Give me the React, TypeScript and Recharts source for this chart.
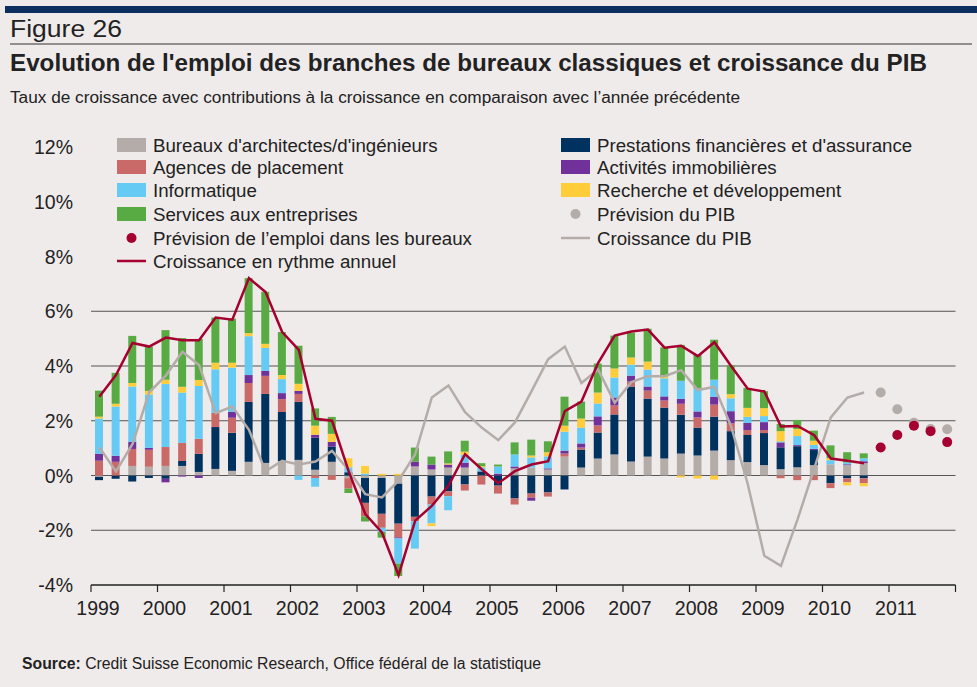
import React from "react"
import { ComposedChart, Bar, Line, XAxis, YAxis, CartesianGrid } from "recharts"

const years = ["1999", "2000", "2001", "2002", "2003", "2004", "2005", "2006", "2007", "2008", "2009", "2010", "2011"]
const quarters = years.flatMap((y) => ["Q1", "Q2", "Q3", "Q4"].map((q) => `${y} ${q}`))

// contributions (points de %), 1999 T1 - 2010 T3
const architectes = [-0.05, 0, 0.35, 0.32, 0.35, 0.35, 0.13, 0.24, 0.17, 0.5, 0.46, 0.52, 0.57, 0.21, 0.5, -0.1, -0.09, -0.09, -0.3, 0.33, 0.22, 0.29, 0.29, 0, 0, 0.26, 0.29, 0.22, 0.69, 0.29, 0.62, 0.77, 0.51, 0.69, 0.62, 0.8, 0.73, 0.91, 0.56, 0.49, 0.38, 0.23, 0.3, 0.38, 0.41, 0.38, 0.45]
const finance = [-0.12, -0.12, -0.22, -0.09, -0.12, 0.18, 0.66, 1.53, 1.39, 2.19, 2.52, 1.8, 2.12, 1.17, 0.55, 0.12, -0.91, -1.31, -1.46, -1.51, -0.77, -0.58, -0.33, 0.15, -0.37, -0.84, -0.66, -0.62, -0.51, 0.66, 0.95, 1.46, 2.74, 2.12, 1.86, 1.42, 1.02, 1.24, 1.06, 0.99, 1.17, 0.8, 0.77, 0.55, -0.28, -0.1, -0.1]
const placement = [0.54, 0.5, 0.62, 0.62, 0.69, 0.66, 0.55, 0.52, 0.55, 0.69, 0.66, 0.47, 0.29, -0.09, -0.16, -0.38, -0.49, -0.51, -0.5, -0.16, -0.29, -0.18, -0.22, -0.33, -0.29, -0.22, -0.15, -0.15, 0.11, 0.07, 0.26, 0.33, 0.18, 0.29, 0.26, 0.4, 0.37, 0.44, 0.29, 0.18, 0.11, -0.1, -0.17, -0.17, -0.18, -0.15, -0.18]
const immobilier = [0.26, 0.22, 0.26, 0.07, -0.13, -0.04, -0.09, 0, 0.22, 0.29, 0.18, 0.22, 0.11, 0.11, 0.18, 0, 0, 0, -0.04, 0.18, 0.18, 0.11, 0.18, 0, 0.07, 0.07, -0.11, 0.04, 0.11, 0.15, 0.33, 0.29, 0.22, 0.15, 0.15, 0.18, 0.22, 0.29, 0.44, 0.26, 0.29, 0.18, 0.04, 0.04, 0, 0.03, 0.07]
const informatique = [1.28, 1.8, 2.02, 1.95, 2.3, 1.84, 1.93, 1.59, 1.61, 1.42, 0.84, 0.51, -0.16, -0.32, 0, 0.18, 0.07, -0.15, -0.92, -1.0, -0.69, -0.51, 0.29, 0.15, 0.26, 0.44, 0.37, 0.44, 0.69, 0.58, 0.47, 0.73, 0.4, 0.62, 0.66, 0.66, 0.84, 0.62, 0.47, 0.22, 0.22, 0.04, 0.33, 0.15, 0.15, 0.07, 0.11]
const recherche = [0.07, 0.1, 0.13, 0.13, 0.16, 0.21, 0.22, 0.24, 0.18, 0.11, 0.15, 0.15, 0.26, 0.33, 0.29, 0.33, 0.28, 0.06, 0.06, 0, -0.1, 0.04, 0.11, 0.04, 0, 0, 0.07, 0.15, 0.22, 0.33, 0.4, 0.33, 0.26, 0.29, 0.07, -0.07, -0.11, -0.15, 0.15, 0.33, 0.29, 0.37, 0.26, 0.15, 0.07, -0.11, -0.11]
const services = [0.95, 1.13, 1.72, 1.62, 1.81, 1.78, 1.5, 1.65, 1.61, 2.01, 1.9, 1.57, 1.39, 0.63, 0.62, -0.16, -0.19, -0.21, -0.45, 0.51, 0.29, 0.44, 0.4, 0.11, 0.07, 0.44, 0.58, 0.4, 1.06, 0.62, 1.06, 1.2, 0.91, 1.2, 1.06, 1.31, 1.24, 1.46, 1.06, 0.73, 0.62, 0.26, 0.33, 0.37, 0.47, 0.37, 0.18]

// croissance en rythme annuel (emploi) et croissance du PIB
const emploi = [2.88, 3.67, 4.84, 4.71, 5.04, 4.94, 4.94, 5.77, 5.69, 7.21, 6.7, 5.24, 4.59, 2.07, 2.0, 0.15, -1.41, -2.08, -3.64, -1.65, -1.11, -0.38, 0.78, 0.23, -0.28, 0.16, 0.4, 0.52, 2.35, 2.7, 4.11, 5.11, 5.26, 5.33, 4.67, 4.74, 4.36, 4.87, 4.0, 3.17, 3.07, 1.79, 1.81, 1.47, 0.62, 0.54, 0.45]
const pib = [1.03, 0.15, 1.15, 3.04, 3.65, 4.52, 4.04, 2.28, 2.52, 1.67, 0.15, 0.54, 0.4, 0.51, 0.9, 0.2, -0.68, -0.8, -0.19, 0.78, 2.85, 3.29, 2.31, 1.75, 1.29, 1.94, 3.08, 4.25, 4.71, 3.38, 3.87, 2.66, 3.41, 3.63, 3.63, 3.85, 3.12, 3.24, 1.8, -0.3, -2.93, -3.3, -1.6, 0.25, 2.12, 2.85, 3.03]

// prévisions 2010 T4 - 2011 T4
const emploiPrevision = [1.02, 1.48, 1.82, 1.62, 1.22]
const pibPrevision = [3.03, 2.42, 1.93, 1.7, 1.69]

const yTicks = [-4, -2, 0, 2, 4, 6, 8, 10, 12]
const gridValues = [-2, 0, 2, 4, 6]

const C = {
  arch: "#b4aca8",
  fin: "#00325f",
  plac: "#c96a69",
  immo: "#70319b",
  info: "#66cbf4",
  rd: "#ffcd3a",
  serv: "#58ab42",
  red: "#a5002f",
  grey: "#b4aca8",
  bg: "#efebea",
  text: "#222",
}
const FONT = "'Liberation Sans', Arial, Helvetica, sans-serif"

const W = 977
const H = 687
const PLOT_LEFT = 91
const PLOT_RIGHT = 955.5
const PLOT_TOP = 147
const PLOT_BOTTOM = 585
const X_AXIS_H = 30
const Y_AXIS_W = 80
const BAND = (PLOT_RIGHT - PLOT_LEFT) / quarters.length

const nBars = emploi.length
const pick = (arr: number[], i: number) => (i < arr.length ? arr[i] : null)
const rows = quarters.map((q, i) => ({
  q,
  arch: pick(architectes, i),
  fin: pick(finance, i),
  plac: pick(placement, i),
  immo: pick(immobilier, i),
  info: pick(informatique, i),
  rd: pick(recherche, i),
  serv: pick(services, i),
  emp: pick(emploi, i),
  pib: pick(pib, i),
  empF: i >= nBars ? emploiPrevision[i - nBars] : null,
  pibF: i >= nBars ? pibPrevision[i - nBars] : null,
}))

const yToPx = (v: number) => PLOT_TOP + ((12 - v) * (PLOT_BOTTOM - PLOT_TOP)) / 16

function YTick(props: any) {
  const { y, payload } = props
  return (
    <text x={73} y={y + 7} textAnchor="end" fontSize={19.5} fill={C.text} fontFamily={FONT}>
      {payload.value}%
    </text>
  )
}

function XTick(props: any) {
  const { x, payload } = props
  const idx = quarters.indexOf(payload.value)
  if (idx % 4 !== 0) return <g />
  const x0 = x - BAND / 2
  const isLast = idx === quarters.length - 4
  return (
    <g>
      <line x1={x0} x2={x0} y1={PLOT_BOTTOM} y2={PLOT_BOTTOM + 7} stroke="#222" strokeWidth={1.2} />
      {isLast && (
        <line x1={x0 + 4 * BAND} x2={x0 + 4 * BAND} y1={PLOT_BOTTOM} y2={PLOT_BOTTOM + 7} stroke="#222" strokeWidth={1.2} />
      )}
      <text x={x0 + 7} y={PLOT_BOTTOM + 30} textAnchor="middle" fontSize={19.5} fill={C.text} fontFamily={FONT}>
        {payload.value.slice(0, 4)}
      </text>
    </g>
  )
}

const legendLeft = [
  { kind: "rect", color: C.arch, label: "Bureaux d'architectes/d'ingénieurs" },
  { kind: "rect", color: C.plac, label: "Agences de placement" },
  { kind: "rect", color: C.info, label: "Informatique" },
  { kind: "rect", color: C.serv, label: "Services aux entreprises" },
  { kind: "dot", color: C.red, label: "Prévision de l’emploi dans les bureaux" },
  { kind: "line", color: C.red, label: "Croissance en rythme annuel" },
]
const legendRight = [
  { kind: "rect", color: C.fin, label: "Prestations financières et d'assurance" },
  { kind: "rect", color: C.immo, label: "Activités immobilières" },
  { kind: "rect", color: C.rd, label: "Recherche et développement" },
  { kind: "dot", color: C.grey, label: "Prévision du PIB" },
  { kind: "line", color: C.grey, label: "Croissance du PIB" },
]
const legendRows = [145, 167, 190, 214, 238, 261]

function LegendItem({ item, x, cy }: { item: any; x: number; cy: number }) {
  return (
    <g>
      {item.kind === "rect" && <rect x={x} y={cy - 7} width={29} height={14} fill={item.color} />}
      {item.kind === "dot" && <circle cx={x + 14.5} cy={cy} r={5} fill={item.color} />}
      {item.kind === "line" && <line x1={x} x2={x + 29} y1={cy} y2={cy} stroke={item.color} strokeWidth={2.5} />}
      <text x={x + 36} y={cy + 6.5} fontSize={18.7} fill={C.text} fontFamily={FONT}>
        {item.label}
      </text>
    </g>
  )
}

export default function App() {
  return (
    <div style={{ position: "absolute", left: 0, top: 0, width: W, height: H, background: C.bg, overflow: "hidden" }}>
      <ComposedChart
        width={W}
        height={H}
        data={rows}
        stackOffset="sign"
        margin={{ top: PLOT_TOP, right: W - PLOT_RIGHT, bottom: H - PLOT_BOTTOM - X_AXIS_H, left: PLOT_LEFT - Y_AXIS_W }}
      >
        <CartesianGrid
          vertical={false}
          stroke="#555"
          strokeWidth={1.2}
          horizontalCoordinatesGenerator={() => gridValues.map(yToPx)}
        />
        <XAxis
          dataKey="q"
          interval={0}
          height={X_AXIS_H}
          tickLine={false}
          axisLine={{ stroke: "#222", strokeWidth: 1.5 }}
          tick={<XTick />}
        />
        <YAxis domain={[-4, 12]} ticks={yTicks} width={Y_AXIS_W} axisLine={false} tickLine={false} tick={<YTick />} />
        <Bar dataKey="arch" stackId="a" fill={C.arch} barSize={8} isAnimationActive={false} />
        <Bar dataKey="fin" stackId="a" fill={C.fin} barSize={8} isAnimationActive={false} />
        <Bar dataKey="plac" stackId="a" fill={C.plac} barSize={8} isAnimationActive={false} />
        <Bar dataKey="immo" stackId="a" fill={C.immo} barSize={8} isAnimationActive={false} />
        <Bar dataKey="info" stackId="a" fill={C.info} barSize={8} isAnimationActive={false} />
        <Bar dataKey="rd" stackId="a" fill={C.rd} barSize={8} isAnimationActive={false} />
        <Bar dataKey="serv" stackId="a" fill={C.serv} barSize={8} isAnimationActive={false} />
        <Line dataKey="pib" type="linear" stroke={C.grey} strokeWidth={2.5} dot={false} isAnimationActive={false} />
        <Line dataKey="emp" type="linear" stroke={C.red} strokeWidth={2.5} dot={false} isAnimationActive={false} />
        <Line
          dataKey="pibF"
          type="linear"
          stroke="none"
          dot={{ r: 5, fill: C.grey, stroke: "none" }}
          activeDot={false}
          isAnimationActive={false}
        />
        <Line
          dataKey="empF"
          type="linear"
          stroke="none"
          dot={{ r: 5, fill: C.red, stroke: "none" }}
          activeDot={false}
          isAnimationActive={false}
        />
      </ComposedChart>
      <svg width={W} height={H} style={{ position: "absolute", left: 0, top: 0, pointerEvents: "none" }}>
        <rect x={5} y={6} width={W - 5} height={7} fill="#0b2f5e" />
        <text x={10} y={37} fontSize={23} fill={C.text} fontFamily={FONT} textLength={112} lengthAdjust="spacingAndGlyphs">
          Figure 26
        </text>
        <line x1={10} x2={972} y1={44} y2={44} stroke="#333" strokeWidth={1} />
        <text
          x={10}
          y={71}
          fontSize={23}
          fontWeight="bold"
          fill={C.text}
          fontFamily={FONT}
          textLength={917}
          lengthAdjust="spacingAndGlyphs"
        >
          Evolution de l'emploi des branches de bureaux classiques et croissance du PIB
        </text>
        <text x={10} y={103} fontSize={16} fill={C.text} fontFamily={FONT} textLength={730} lengthAdjust="spacingAndGlyphs">
          Taux de croissance avec contributions à la croissance en comparaison avec l’année précédente
        </text>
        {legendLeft.map((it, i) => (
          <LegendItem key={it.label} item={it} x={117} cy={legendRows[i]} />
        ))}
        {legendRight.map((it, i) => (
          <LegendItem key={it.label} item={it} x={561} cy={legendRows[i]} />
        ))}
        <text x={22} y={669} fontSize={15.8} fill={C.text} fontFamily={FONT} textLength={519} lengthAdjust="spacingAndGlyphs">
          <tspan fontWeight="bold">Source:</tspan> Credit Suisse Economic Research, Office fédéral de la statistique
        </text>
      </svg>
    </div>
  )
}
